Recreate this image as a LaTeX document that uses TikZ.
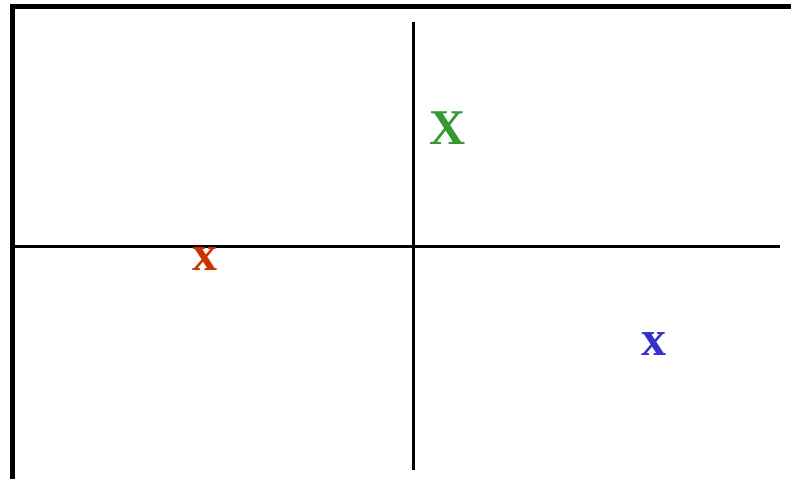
\documentclass[tikz,border=0pt]{standalone}
\usepackage{fontspec}
\setmainfont{Liberation Serif}
\begin{document}
\begin{tikzpicture}[x=1pt,y=-1pt,
  frame/.style={line width=5pt},
  axis/.style={line width=3pt},
  mark letter/.style={inner sep=0pt,font=\fontsize{50}{52}\selectfont\bfseries}]
\useasboundingbox (0,0) rectangle (791,479);
\fill[white] (0,0) rectangle (791,479);
\coordinate (tl) at (12.5,6.5);
\coordinate (tr) at (791,6.5);
\coordinate (bl) at (12.5,479);
\draw[frame] (tr) -- (tl) -- (bl);
\coordinate (vt) at (413,22);
\coordinate (vb) at (413,470);
\coordinate (hl) at (14,246);
\coordinate (hr) at (780,246);
\draw[axis] (vt) -- (vb);
\draw[axis] (hl) -- (hr);
\definecolor{xgreen}{RGB}{51,153,51}
\definecolor{xred}{RGB}{204,51,0}
\definecolor{xblue}{RGB}{51,51,204}
\node[mark letter,text=xgreen] (g) at (448,128) {X};
\node[mark letter,text=xred] (r) at (205,259) {x};
\node[mark letter,text=xblue] (b) at (654,344) {x};
\end{tikzpicture}
\end{document}
